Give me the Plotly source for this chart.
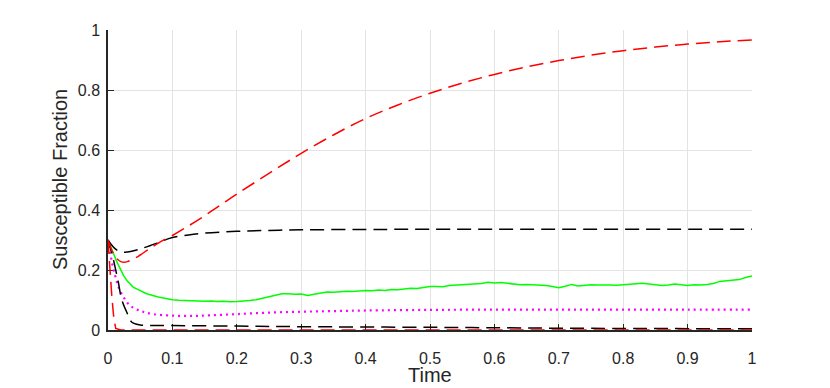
import plotly.graph_objects as go

# ---- data ----
red_up_x = [0, 0.005, 0.01, 0.015, 0.02, 0.025, 0.03, 0.04, 0.05, 0.065, 0.08, 0.1, 0.125, 0.15, 0.175, 0.2,
            0.25, 0.3, 0.35, 0.4, 0.45, 0.5, 0.55, 0.6, 0.65, 0.7, 0.75, 0.8, 0.85, 0.9, 0.95, 1.0]
red_up_y = [0.30, 0.27, 0.248, 0.235, 0.228, 0.226, 0.228, 0.237, 0.25, 0.272, 0.292, 0.315, 0.347, 0.381, 0.417, 0.453,
            0.522, 0.589, 0.65, 0.705, 0.75, 0.789, 0.823, 0.852, 0.877, 0.898, 0.916, 0.931, 0.943, 0.953, 0.961, 0.967]

black_up_x = [0, 0.005, 0.01, 0.015, 0.02, 0.025, 0.03, 0.04, 0.05, 0.065, 0.08, 0.1, 0.125, 0.15, 0.2, 0.25, 0.3, 0.4, 0.5, 1.0]
black_up_y = [0.30, 0.285, 0.273, 0.265, 0.261, 0.259, 0.26, 0.264, 0.27, 0.281, 0.293, 0.308, 0.317, 0.323, 0.329, 0.332, 0.334, 0.335, 0.336, 0.336]

green_x = [0, 0.007, 0.014, 0.024, 0.03, 0.039, 0.05, 0.06, 0.078, 0.09,
           0.10, 0.11, 0.12, 0.13, 0.14, 0.15, 0.16, 0.17, 0.18, 0.19,
           0.20, 0.21, 0.22, 0.23, 0.24, 0.25, 0.26, 0.27, 0.28, 0.29,
           0.30, 0.31, 0.32, 0.33, 0.34, 0.35, 0.36, 0.37, 0.38, 0.39,
           0.40, 0.41, 0.42, 0.43, 0.44, 0.45, 0.46, 0.47, 0.48, 0.49,
           0.50, 0.51, 0.52, 0.53, 0.54, 0.55, 0.56, 0.57, 0.58, 0.59,
           0.60, 0.61, 0.62, 0.63, 0.64, 0.65, 0.66, 0.67, 0.68, 0.69,
           0.70, 0.71, 0.72, 0.73, 0.74, 0.75, 0.76, 0.77, 0.78, 0.79,
           0.80, 0.81, 0.82, 0.83, 0.84, 0.85, 0.86, 0.87, 0.88, 0.89,
           0.90, 0.91, 0.92, 0.93, 0.94, 0.95, 0.96, 0.97, 0.98, 0.99, 1.00]
green_y = [0.30, 0.26, 0.226, 0.182, 0.163, 0.143, 0.13, 0.121, 0.11, 0.104,
           0.101, 0.099, 0.098, 0.097, 0.098, 0.096, 0.097, 0.095, 0.096, 0.094,
           0.095, 0.096, 0.098, 0.101, 0.106, 0.112, 0.117, 0.121, 0.121, 0.119,
           0.120, 0.115, 0.119, 0.124, 0.127, 0.126, 0.128, 0.129, 0.128, 0.131,
           0.132, 0.131, 0.133, 0.132, 0.135, 0.134, 0.137, 0.139, 0.138, 0.142,
           0.145, 0.145, 0.144, 0.148, 0.149, 0.151, 0.152, 0.153, 0.155, 0.159,
           0.157, 0.158, 0.155, 0.153, 0.151, 0.152, 0.151, 0.149, 0.148, 0.145,
           0.141, 0.146, 0.152, 0.147, 0.149, 0.151, 0.150, 0.151, 0.150, 0.149,
           0.150, 0.153, 0.154, 0.156, 0.153, 0.151, 0.148, 0.150, 0.153, 0.151,
           0.148, 0.151, 0.150, 0.152, 0.155, 0.162, 0.164, 0.165, 0.168, 0.175, 0.180]

magenta_x = [0, 0.003, 0.006, 0.011, 0.016, 0.024, 0.034, 0.05, 0.07, 0.1, 0.13, 0.16, 0.2, 0.25, 0.3, 0.35, 0.4,
             0.5, 0.6, 0.7, 0.8, 0.9, 1.0]
magenta_y = [0.30, 0.265, 0.226, 0.182, 0.145, 0.11, 0.082, 0.064, 0.053, 0.048, 0.047, 0.049, 0.053, 0.058, 0.061, 0.063, 0.065,
             0.067, 0.068, 0.068, 0.068, 0.068, 0.068]

black_low_x = [0, 0.004, 0.008, 0.012, 0.016, 0.021, 0.029, 0.037, 0.05, 0.1, 0.2, 0.3, 0.5, 0.7, 1.0]
black_low_y = [0.30, 0.27, 0.238, 0.2, 0.16, 0.104, 0.06, 0.026, 0.017, 0.015, 0.013, 0.011, 0.009, 0.006, 0.004]

red_low_x = [0, 0.003, 0.006, 0.009, 0.012, 0.02, 1.0]
red_low_y = [0.30, 0.2, 0.11, 0.04, 0.005, 0.0, 0.0]

x_ticks = [0, 0.1, 0.2, 0.3, 0.4, 0.5, 0.6, 0.7, 0.8, 0.9, 1]
x_ticklabels = ["0", "0.1", "0.2", "0.3", "0.4", "0.5", "0.6", "0.7", "0.8", "0.9", "1"]
y_ticks = [0, 0.2, 0.4, 0.6, 0.8, 1]
y_ticklabels = ["0", "0.2", "0.4", "0.6", "0.8", "1"]
x_title = "Time"
y_title = "Susceptible Fraction"

DASH = "14px,7px"
FONT = "Liberation Sans, Arial, sans-serif"
TXT = "#262626"

fig = go.Figure()
fig.add_trace(go.Scatter(x=green_x, y=green_y, mode="lines",
                         line=dict(color="#00ff00", width=1.5), cliponaxis=False))
fig.add_trace(go.Scatter(x=magenta_x, y=magenta_y, mode="lines", line_shape="spline",
                         line=dict(color="#ff00ff", width=2.2, dash="2px,4px"), cliponaxis=False))
fig.add_trace(go.Scatter(x=black_up_x, y=black_up_y, mode="lines", line_shape="spline",
                         line=dict(color="#000000", width=1.5, dash=DASH), cliponaxis=False))
fig.add_trace(go.Scatter(x=black_low_x, y=black_low_y, mode="lines", line_shape="spline",
                         line=dict(color="#000000", width=1.5, dash=DASH), cliponaxis=False))
fig.add_trace(go.Scatter(x=red_up_x, y=red_up_y, mode="lines", line_shape="spline",
                         line=dict(color="#ff0000", width=1.5, dash=DASH), cliponaxis=False))
fig.add_trace(go.Scatter(x=red_low_x, y=red_low_y, mode="lines",
                         line=dict(color="#ff0000", width=1.5, dash=DASH), cliponaxis=False))

axis_common = dict(
    showline=True, linecolor=TXT, linewidth=1.5,
    ticks="inside", ticklen=6, tickwidth=1, tickcolor=TXT,
    showgrid=True, gridcolor="#e3e3e3", gridwidth=1,
    zeroline=False, mirror=False, layer="below traces", automargin=False,
    tickfont=dict(family=FONT, size=16, color=TXT),
)

# page body has an 8px default margin, so the figure is offset by 8px
fig.update_layout(
    width=822, height=380,
    margin=dict(l=100, r=78, t=22, b=58),
    paper_bgcolor="white", plot_bgcolor="white",
    showlegend=False,
    font=dict(family=FONT, color=TXT),
    xaxis=dict(range=[0, 1], tickvals=x_ticks, ticktext=x_ticklabels,
               ticklabelstandoff=13, **axis_common),
    yaxis=dict(range=[0, 1], tickvals=y_ticks, ticktext=y_ticklabels,
               ticklabelstandoff=3, **axis_common),
    annotations=[
        dict(text=x_title, xref="paper", yref="paper", x=0.5, y=0, xanchor="center", yanchor="middle",
             yshift=-45, showarrow=False, font=dict(family=FONT, size=20, color=TXT)),
        dict(text=y_title, xref="paper", yref="paper", x=0, y=0.5, xanchor="center", yanchor="middle",
             xshift=-48, textangle=-90, showarrow=False, font=dict(family=FONT, size=20, color=TXT)),
    ],
)

fig.write_html("out.html")
